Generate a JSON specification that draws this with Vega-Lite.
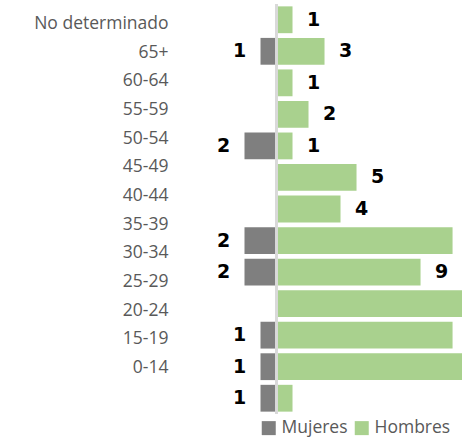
{
  "$schema": "https://vega.github.io/schema/vega-lite/v6.json",
  "width": 282,
  "height": 410,
  "autosize": "none",
  "padding": {"left": 180, "top": 4, "right": 0, "bottom": 27},
  "background": "white",
  "config": {"view": {"stroke": null}},
  "datasets": {
    "barras": [
      {"grupo": "No determinado", "sexo": "Hombres", "valor": 1, "etiqueta": "1"},
      {"grupo": "65+", "sexo": "Mujeres", "valor": -1, "etiqueta": "1"},
      {"grupo": "65+", "sexo": "Hombres", "valor": 3, "etiqueta": "3"},
      {"grupo": "60-64", "sexo": "Hombres", "valor": 1, "etiqueta": "1"},
      {"grupo": "55-59", "sexo": "Hombres", "valor": 2, "etiqueta": "2"},
      {"grupo": "50-54", "sexo": "Mujeres", "valor": -2, "etiqueta": "2"},
      {"grupo": "50-54", "sexo": "Hombres", "valor": 1, "etiqueta": "1"},
      {"grupo": "45-49", "sexo": "Hombres", "valor": 5, "etiqueta": "5"},
      {"grupo": "40-44", "sexo": "Hombres", "valor": 4, "etiqueta": "4"},
      {"grupo": "35-39", "sexo": "Mujeres", "valor": -2, "etiqueta": "2"},
      {"grupo": "35-39", "sexo": "Hombres", "valor": 11, "etiqueta": null},
      {"grupo": "30-34", "sexo": "Mujeres", "valor": -2, "etiqueta": "2"},
      {"grupo": "30-34", "sexo": "Hombres", "valor": 9, "etiqueta": "9"},
      {"grupo": "25-29", "sexo": "Hombres", "valor": 12, "etiqueta": null},
      {"grupo": "20-24", "sexo": "Mujeres", "valor": -1, "etiqueta": "1"},
      {"grupo": "20-24", "sexo": "Hombres", "valor": 11, "etiqueta": null},
      {"grupo": "15-19", "sexo": "Mujeres", "valor": -1, "etiqueta": "1"},
      {"grupo": "15-19", "sexo": "Hombres", "valor": 12, "etiqueta": null},
      {"grupo": "0-14", "sexo": "Mujeres", "valor": -1, "etiqueta": "1"},
      {"grupo": "0-14", "sexo": "Hombres", "valor": 1, "etiqueta": null}
    ],
    "grupos": [
      {"grupo": "No determinado"}, {"grupo": "65+"}, {"grupo": "60-64"}, {"grupo": "55-59"},
      {"grupo": "50-54"}, {"grupo": "45-49"}, {"grupo": "40-44"}, {"grupo": "35-39"},
      {"grupo": "30-34"}, {"grupo": "25-29"}, {"grupo": "20-24"}, {"grupo": "15-19"}, {"grupo": "0-14"}
    ]
  },
  "layer": [
    {
      "data": {"name": "barras"},
      "encoding": {
        "y": {
          "field": "grupo", "type": "nominal",
          "scale": {
            "domain": ["No determinado", "65+", "60-64", "55-59", "50-54", "45-49", "40-44", "35-39", "30-34", "25-29", "20-24", "15-19", "0-14"],
            "paddingInner": 0.15, "paddingOuter": 0.075
          },
          "axis": null
        },
        "x": {
          "field": "valor", "type": "quantitative",
          "scale": {"domain": [-6.03, 11.59], "nice": false, "zero": false},
          "axis": null
        }
      },
      "layer": [
        {
          "mark": {"type": "bar", "clip": true},
          "encoding": {
            "color": {
              "field": "sexo", "type": "nominal",
              "scale": {"domain": ["Mujeres", "Hombres"], "range": ["#7f7f7f", "#a9d18e"]},
              "legend": {
                "orient": "none", "legendX": 80, "legendY": 415, "direction": "horizontal",
                "title": null, "symbolType": "square", "symbolSize": 196,
                "symbolStrokeWidth": 0, "symbolOpacity": 1, "padding": 0,
                "labelFont": "Open Sans", "labelFontSize": 17.5, "labelColor": "#595959",
                "labelOffset": 4, "columnPadding": 5
              }
            }
          }
        },
        {
          "transform": [{"filter": "datum.sexo == 'Mujeres' && isValid(datum.etiqueta)"}],
          "mark": {"type": "text", "dx": -21, "font": "DejaVu Sans", "fontWeight": "bold", "fontSize": 19, "color": "black"},
          "encoding": {"text": {"field": "etiqueta", "type": "nominal"}}
        },
        {
          "transform": [{"filter": "datum.sexo == 'Hombres' && isValid(datum.etiqueta)"}],
          "mark": {"type": "text", "dx": 21, "font": "DejaVu Sans", "fontWeight": "bold", "fontSize": 19, "color": "black"},
          "encoding": {"text": {"field": "etiqueta", "type": "nominal"}}
        },
        {
          "mark": {"type": "rule", "color": "#d9d9d9", "strokeWidth": 2},
          "encoding": {"x": {"datum": 0}, "y": null}
        }
      ]
    },
    {
      "data": {"name": "grupos"},
      "mark": {"type": "tick", "opacity": 0},
      "encoding": {
        "y": {
          "field": "grupo", "type": "nominal",
          "scale": {
            "type": "band",
            "domain": ["No determinado", "65+", "60-64", "55-59", "50-54", "45-49", "40-44", "35-39", "30-34", "25-29", "20-24", "15-19", "0-14"],
            "paddingInner": 0, "paddingOuter": 0.65, "align": 0.15, "round": false
          },
          "axis": {
            "orient": "left", "title": null, "ticks": false, "domain": false, "grid": false,
            "labelFont": "Open Sans", "labelFontSize": 17.5, "labelColor": "#595959",
            "labelPadding": 12, "labelLimit": 300, "labelBaseline": "middle"
          }
        }
      }
    }
  ],
  "resolve": {"scale": {"y": "independent"}, "axis": {"y": "independent"}}
}
